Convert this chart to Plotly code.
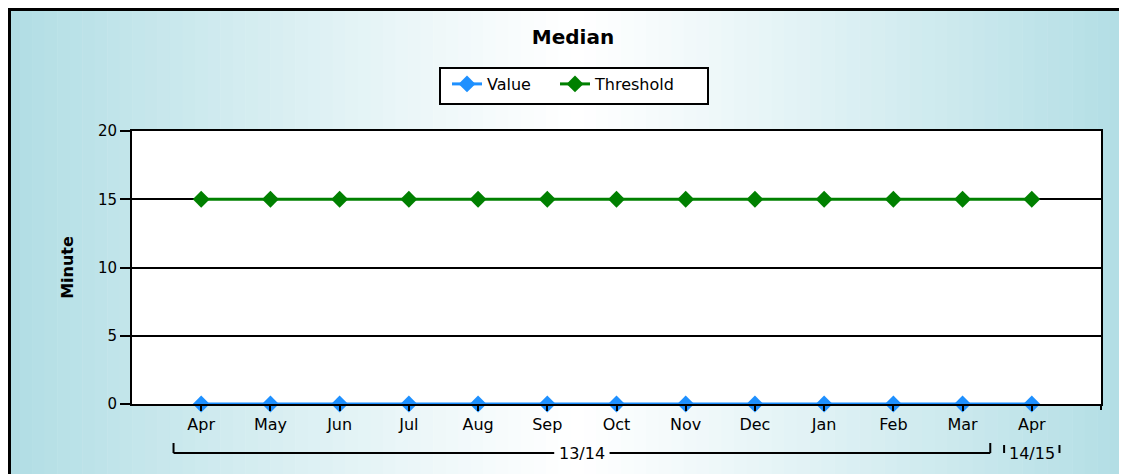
import plotly.graph_objects as go

months = ["Apr", "May", "Jun", "Jul", "Aug", "Sep", "Oct", "Nov", "Dec", "Jan", "Feb", "Mar", "Apr"]
groups = ["13/14"] * 12 + ["14/15"]
value = [0, 0, 0, 0, 0, 0, 0, 0, 0, 0, 0, 0, 0]
threshold = [15, 15, 15, 15, 15, 15, 15, 15, 15, 15, 15, 15, 15]
y_ticks = [0, 5, 10, 15, 20]

W, H = 1127, 474
OFF = 7  # page offset of the rendered figure
L, R, T, B = 131 - OFF, 1100 - OFF, 130 - OFF, 403 - OFF
PW, PH = R - L, B - T
FONT = "DejaVu Sans"

def px_x(p):
    # p given in reference-page pixels
    return (p - OFF - L) / PW

def px_y(p):
    return (B - (p - OFF)) / PH

idx = list(range(len(months)))

fig = go.Figure()
fig.add_trace(go.Scatter(
    x=idx, y=value, name="Value", mode="lines+markers",
    line=dict(color="#1e90ff", width=3),
    marker=dict(symbol="diamond", size=13, color="#1e90ff"),
    cliponaxis=False, legend="legend",
))
fig.add_trace(go.Scatter(
    x=idx, y=threshold, name="Threshold", mode="lines+markers",
    line=dict(color="#008000", width=3),
    marker=dict(symbol="diamond", size=13, color="#008000"),
    cliponaxis=False, legend="legend2",
))

shapes = []
# horizontal gradient background
edge = (176, 221, 228)
center = (255, 255, 255)
cx = 575
N = 90
x_start, x_end = 6, W + OFF
for i in range(N):
    a = x_start + (x_end - x_start) * i / N
    b = x_start + (x_end - x_start) * (i + 1) / N + 0.5
    m = (a + b) / 2
    if m < cx:
        t = (cx - m) / (cx - x_start)
    else:
        t = (m - cx) / (x_end - cx)
    t = min(max(t, 0), 1) ** 1.1
    c = tuple(int(round(center[k] + (edge[k] - center[k]) * t)) for k in range(3))
    shapes.append(dict(type="rect", xref="paper", yref="paper",
                       x0=px_x(a), x1=px_x(b), y0=px_y(H + 20), y1=px_y(6),
                       fillcolor="rgb(%d,%d,%d)" % c, line=dict(width=0), layer="below"))
# white plot area
shapes.append(dict(type="rect", xref="paper", yref="paper", x0=0, x1=1, y0=0, y1=1,
                   fillcolor="white", line=dict(width=0), layer="below"))
# legend box
shapes.append(dict(type="rect", xref="paper", yref="paper",
                   x0=px_x(439), x1=px_x(707), y0=px_y(103), y1=px_y(67),
                   fillcolor="white", line=dict(color="black", width=2), layer="below"))
# outer border (left and top edges)
shapes.append(dict(type="line", xref="paper", yref="paper",
                   x0=px_x(OFF + 1.5), x1=px_x(OFF + 1.5), y0=px_y(H + 20), y1=px_y(OFF),
                   line=dict(color="black", width=3)))
shapes.append(dict(type="line", xref="paper", yref="paper",
                   x0=px_x(OFF), x1=px_x(W + 20), y0=px_y(OFF + 1.5), y1=px_y(OFF + 1.5),
                   line=dict(color="black", width=3)))
# right end tick below axis
shapes.append(dict(type="line", xref="paper", yref="paper", x0=1, x1=1,
                   y0=px_y(409), y1=0, line=dict(color="black", width=2)))

annotations = []
# group brackets
ordered = []
for i, g in enumerate(groups):
    if not ordered or ordered[-1][0] != g:
        ordered.append([g, i, i])
    else:
        ordered[-1][2] = i
y_line = px_y(452)
y_top = px_y(442)
for g, i0, i1 in ordered:
    xa, xb = i0 - 0.4, i1 + 0.4
    xm = (i0 + i1) / 2
    annotations.append(dict(x=xm, y=y_line, xref="x", yref="paper", text=g, showarrow=False,
                            font=dict(family=FONT, size=16, color="black"),
                            bgcolor="rgba(0,0,0,0)", xanchor="center", yanchor="middle"))
    if i1 > i0:
        half = 0.4
        shapes.append(dict(type="line", xref="x", yref="paper", x0=xa, x1=xm - half, y0=y_line, y1=y_line,
                           line=dict(color="black", width=2)))
        shapes.append(dict(type="line", xref="x", yref="paper", x0=xm + half, x1=xb, y0=y_line, y1=y_line,
                           line=dict(color="black", width=2)))
        shapes.append(dict(type="line", xref="x", yref="paper", x0=xa, x1=xa, y0=y_line, y1=y_top,
                           line=dict(color="black", width=2)))
        shapes.append(dict(type="line", xref="x", yref="paper", x0=xb, x1=xb, y0=y_line, y1=y_top,
                           line=dict(color="black", width=2)))
    else:
        shapes.append(dict(type="line", xref="x", yref="paper", x0=xa, x1=xa, y0=px_y(452), y1=px_y(444),
                           line=dict(color="black", width=2)))
        shapes.append(dict(type="line", xref="x", yref="paper", x0=xb, x1=xb, y0=px_y(452), y1=px_y(444),
                           line=dict(color="black", width=2)))

legend_common = dict(orientation="h", xanchor="left", y=px_y(66), yanchor="top",
                     bgcolor="rgba(0,0,0,0)", borderwidth=0,
                     font=dict(family=FONT, size=16, color="black"))

fig.update_layout(
    width=W, height=H,
    margin=dict(l=L, r=W - R, t=T, b=H - B, pad=0),
    paper_bgcolor="white",
    plot_bgcolor="white",
    font=dict(family=FONT, size=14, color="black"),
    title=dict(text="<b>Median</b>", x=px_x(572), xref="paper", xanchor="center",
               y=1 - (36 - OFF) / H, yref="container", yanchor="middle",
               font=dict(family=FONT, size=20, color="black")),
    showlegend=True,
    legend=dict(x=px_x(446), **legend_common),
    legend2=dict(x=px_x(554), **legend_common),
    shapes=shapes,
    annotations=annotations,
    xaxis=dict(
        range=[-1, len(months)], tickmode="array", tickvals=idx, ticktext=months,
        showgrid=False, zeroline=False, showline=True, linecolor="black", linewidth=2,
        mirror=True, ticks="outside", ticklen=5, tickwidth=2, tickcolor="black",
        tickfont=dict(family=FONT, size=16, color="black"), fixedrange=True,
    ),
    yaxis=dict(
        range=[0, 20], tickmode="array", tickvals=y_ticks,
        showgrid=True, gridcolor="black", gridwidth=1.5, zeroline=False,
        showline=True, linecolor="black", linewidth=2, mirror=True,
        ticks="outside", ticklen=10, tickwidth=2, tickcolor="black",
        tickfont=dict(family=FONT, size=15, color="black"),
        title=dict(text="<b>Minute</b>", font=dict(family=FONT, size=16, color="black"), standoff=20),
        fixedrange=True,
    ),
)

fig.write_html("out.html")
